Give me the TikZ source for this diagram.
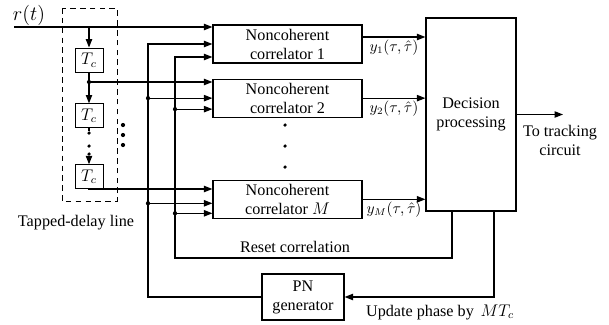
\documentclass[tikz,border=0pt]{standalone}
\usepackage{fontspec}
\setmainfont{Liberation Serif}
\usetikzlibrary{arrows.meta,positioning,calc}

\begin{document}
\begin{tikzpicture}[
  x=0.025cm,y=-0.025cm,
  node distance=0.375cm,
  line width=0.8pt,
  box/.style={draw,minimum width=3.725cm,minimum height=0.95cm,
              font=\fontsize{11.5}{13.5}\selectfont,align=center,inner sep=1pt},
  delay/.style={draw,line width=0.6pt,minimum width=0.7cm,minimum height=0.6cm,
                inner sep=0pt,font=\fontsize{12}{14}\selectfont},
  arr/.style={-{Triangle[length=6pt,width=4.5pt]}},
  lbl/.style={font=\fontsize{11.5}{13.5}\selectfont,align=center},
  ylbl/.style={font=\fontsize{10.5}{12}\selectfont,inner xsep=0pt,inner ysep=1.5pt},
  jdot/.style={circle,fill,inner sep=0pt,minimum size=3pt}
]
\useasboundingbox (0,0) rectangle (609,324);

% correlators, decision and PN generator
\node[box] (c1) at (287.5,44) {Noncoherent\\correlator 1};
\node[box,below=of c1] (c2) {Noncoherent\\correlator 2};
\node[box,below=1.55cm of c2] (cm) {Noncoherent\\correlator $M$};
\node[box,minimum width=2.25cm,minimum height=4.825cm] (dec) at (471,114.5) {Decision\\processing};
\node[box,minimum width=2.05cm,minimum height=1.15cm] (pn) at (303,297) {PN\\generator};

% tapped-delay line
\node[delay] (t1) at (89,60) {$T_c$};
\node[delay,below=0.775cm of t1] (t2) {$T_c$};
\node[delay,below=0.9cm of t2] (t3) {$T_c$};
\draw[line width=0.6pt,dash pattern=on 4pt off 3pt] (62,8) rectangle (117,201);
\node[lbl] (tdl) at (76,223) {Tapped-delay line};

\node[font=\fontsize{14}{16}\selectfont] (rt) at (29,15) {$r(t)$};
\coordinate (in) at (14,27);
\coordinate (tap0) at (89,27);
\coordinate (tap1) at (89,82);
\coordinate (tap3) at (89,189);

\draw[arr] (in) -- (in -| c1.west);
\draw[arr] (tap0) -- (t1.north);
\draw (t1.south) -- (tap1);
\draw[arr] (tap1) -- (t2.north);
\draw[arr] (tap1) -- (tap1 -| c2.west);
\node[jdot] at (tap1) {};

\node[jdot,minimum size=2.5pt] (d1) at (89,133) {};
\node[jdot,minimum size=2.5pt] (d2) at (89,146) {};
\node[jdot,minimum size=2.5pt] (d3) at (89,154) {};
\draw (t2.south) -- (d1);
\draw[arr] (d3) -- (t3.north);
\draw[arr] (t3.south) -- (tap3) -- (tap3 -| cm.west);

\foreach \yy in {125,135,145} \node[jdot] at (123,\yy) {};
\foreach \yy in {125,146,167} \node[jdot,minimum size=2.5pt] at (285,\yy) {};

% PN code bus
\coordinate (ba) at (148,297);
\coordinate (cma) at ($(cm.west)+(0,4)$);
\draw[arr] (pn.west) -- (ba) |- (c1.west);
\draw[arr] (ba |- c2.west) -- (c2.west);
\draw[arr] (ba |- cma) -- (cma);
\node[jdot] at (ba |- c2.west) {};
\node[jdot] at (ba |- cma) {};

% reset bus
\coordinate (bb) at (175,258);
\coordinate (rs) at (452,258);
\coordinate (c1b) at ($(c1.west)+(0,13)$);
\coordinate (c2b) at ($(c2.west)+(0,11)$);
\coordinate (cmb) at ($(cm.west)+(0,14)$);
\draw[arr] (dec.south -| rs) -- (rs) -- (bb) |- (c1b);
\draw[arr] (bb |- c2b) -- (c2b);
\draw[arr] (bb |- cmb) -- (cmb);
\node[jdot] at (bb |- c2b) {};
\node[jdot] at (bb |- cmb) {};
\node[lbl] at (295,247) {Reset correlation};

% update of PN phase
\coordinate (up) at (494,297);
\draw[arr] (dec.south -| up) -- (up) -- (pn.east);
\node[lbl] at (440,312) {Update phase by\, $MT_c$};

% correlator outputs
\coordinate (o1) at ($(c1.east)+(0,-7)$);
\draw[arr] (o1) -- (o1 -| dec.west) node[midway,below,ylbl] {$y_1(\tau,\hat{\tau})$};
\draw[arr] (c2.east) -- (c2.east -| dec.west) node[midway,below,ylbl] {$y_2(\tau,\hat{\tau})$};
\draw[arr] (cm.east) -- (cm.east -| dec.west) node[midway,below,ylbl] {$y_M(\tau,\hat{\tau})$};

% output
\coordinate (tr) at (563,114);
\draw[arr] (dec.east) -- (dec.east -| tr);
\node[lbl] at (560,140) {To tracking\\circuit};
\end{tikzpicture}
\end{document}
